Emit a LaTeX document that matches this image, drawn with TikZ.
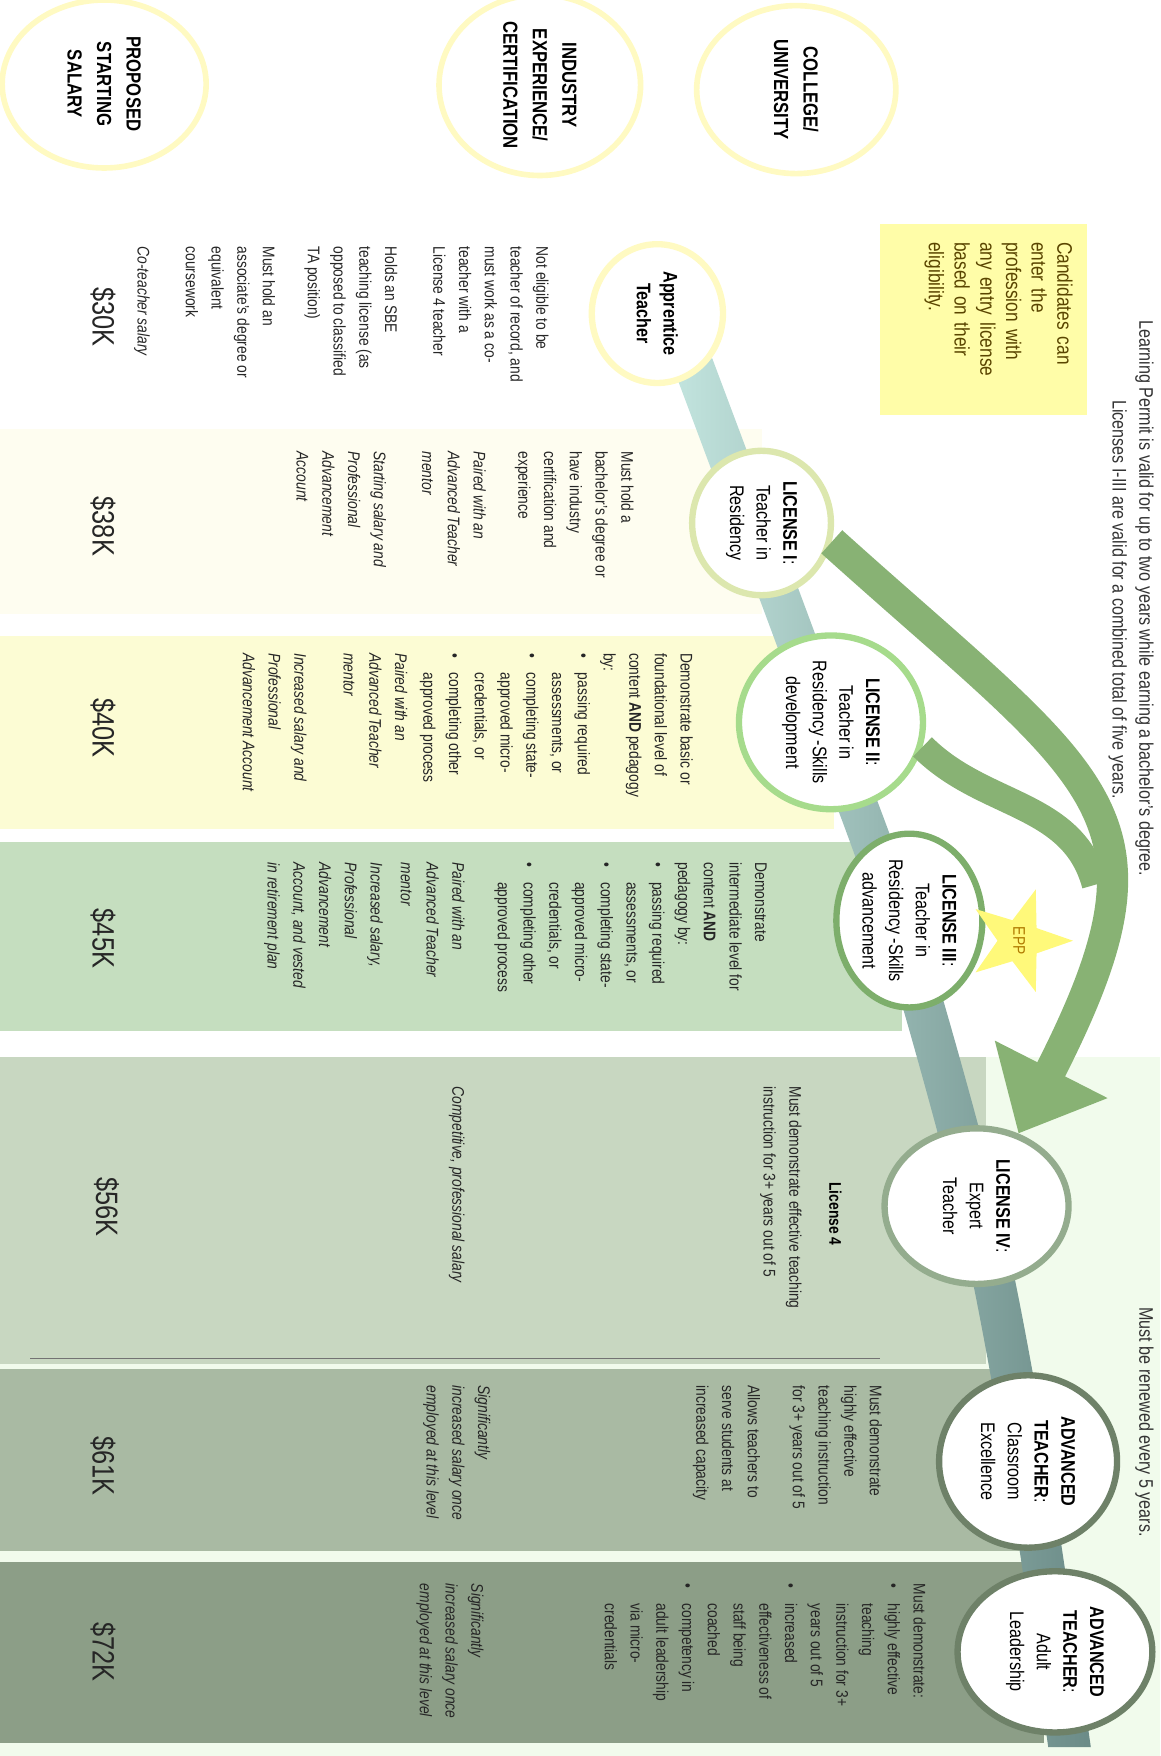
\documentclass[tikz,border=0pt]{standalone}
\usepackage{fontspec}
\setmainfont[FakeStretch=0.82]{Liberation Sans}
\usetikzlibrary{shapes.geometric,arrows.meta}

\definecolor{hdryellow}{HTML}{FFFAC2}
\definecolor{ringI}{HTML}{DCE7AE}
\definecolor{ringII}{HTML}{A6DB8C}
\definecolor{ringIII}{HTML}{7DAE6B}
\definecolor{ringIV}{HTML}{94AC8E}
\definecolor{ringadv}{HTML}{6E8168}
\definecolor{arcgreen}{HTML}{88B274}
\definecolor{notefill}{HTML}{FFFDA8}
\definecolor{notetext}{HTML}{5A4500}
\definecolor{eppstar}{HTML}{FFF97A}
\definecolor{epptext}{HTML}{B07A00}
\definecolor{palebg}{HTML}{F1FBEC}
\definecolor{band38}{HTML}{FEFDF0}
\definecolor{band40}{HTML}{FCFCD4}
\definecolor{band45}{HTML}{C5DEBF}
\definecolor{band56}{HTML}{C8D7C1}
\definecolor{band61}{HTML}{A9BAA3}
\definecolor{band72}{HTML}{8C9E87}
\definecolor{pathtop}{HTML}{C3E5DF}
\definecolor{pathbot}{HTML}{6B8B87}

\newcommand{\bodysize}{\fontsize{12}{18.3}\selectfont}
\newcommand{\stagesize}{\fontsize{14}{19}\selectfont}
\newcommand{\hdrsize}{\fontsize{14.5}{21}\selectfont}
\newcommand{\paysize}{\fontsize{22}{26}\selectfont}
\newcommand{\sidesize}{\fontsize{14}{17}\selectfont}
\newcommand{\boxsize}{\fontsize{15}{18.3}\selectfont}
\newcommand{\itembul}{\makebox[14pt][l]{\textbullet}}
\newcommand{\itemind}{\hspace*{14pt}}

\tikzset{
  hdr/.style={ellipse,draw=hdryellow,line width=4pt,fill=white,inner sep=0pt,align=center,font=\hdrsize\bfseries},
  stage/.style={ellipse,fill=white,line width=4.5pt,inner sep=0pt,align=center,font=\stagesize},
  txt/.style={anchor=north west,inner sep=0pt,align=left,font=\bodysize,text=black!85},
  itxt/.style={txt,font=\bodysize\itshape},
  pay/.style={inner sep=0pt,font=\paysize,text=black!85},
  sidenote/.style={anchor=west,inner sep=0pt,font=\sidesize,text=black!80},
  notebox/.style={anchor=north west,fill=notefill,text=notetext,font=\boxsize,align=left,text width=3.86cm,inner xsep=0.45cm,inner ysep=0.36cm},
  arcband/.style={draw=arcgreen,line width=0.67cm},
  bigarc/.style={arcband,line width=0.78cm,-{Triangle[length=1.8cm,width=3.05cm]}}
}

\begin{document}
\begin{tikzpicture}[x=0.028cm,y=0.028cm,rotate=-90,transform shape]
  \useasboundingbox (0,0) rectangle (1568,1036);
  \fill[palebg] (944,0) rectangle (1568,1036);

  % salary bands
  \fill[band38] (383,0) rectangle (548,680);
  \fill[band40] (568,0) rectangle (740,745);
  \fill[band45] (752,0) rectangle (921,805);
  \fill[band56] (944,0) rectangle (1218,880);
  \fill[band61] (1222,0) rectangle (1385,912);
  \fill[band72] (1395,0) rectangle (1556,932);
  \draw[line width=1.3pt,color=black!55] (1213,27) -- (1213,786);

  % career path
  \shade[left color=pathtop,right color=pathbot]
    plot[smooth] coordinates {(320,636) (467,691) (645,757) (822,821) (1077,892) (1305,936) (1560,974)}
    -- plot[smooth] coordinates {(1560,936) (1305,898) (1077,854) (822,783) (645,719) (467,653) (320,598)}
    -- cycle;

  % column heads
  \node[hdr,minimum width=4.2cm,minimum height=4.98cm] (hdCollege) at (80,711) {COLLEGE/\\UNIVERSITY};
  \node[hdr,minimum width=4.14cm,minimum height=5.04cm] (hdIndustry) at (76,482) {INDUSTRY\\EXPERIENCE/\\CERTIFICATION};
  \node[hdr,minimum width=4.2cm,minimum height=5.1cm] (hdSalary) at (75,93) {PROPOSED\\STARTING\\SALARY};

  \node[notebox] (entrynote) at (200,971) {Candidates can\\enter the\\profession with\\any entry license\\based on their\\eligibility.\par\vspace*{0.74cm}};

  % stages
  \node[stage,draw=hdryellow,minimum width=3.47cm,minimum height=3.28cm] (app) at (280,587) {\textbf{Apprentice}\\\textbf{Teacher}};
  \node[stage,draw=ringI,minimum width=3.61cm,minimum height=3.47cm] (licI) at (467,680) {\textbf{LICENSE I}:\\Teacher in\\Residency};
  \node[stage,draw=ringII,minimum width=3.75cm,minimum height=4.6cm] (licII) at (645,742) {\textbf{LICENSE II}:\\Teacher in\\Residency -Skills\\development};
  \node[stage,draw=ringIII,minimum width=3.95cm,minimum height=3.65cm] (licIII) at (822,812) {\textbf{LICENSE III}:\\Teacher in\\Residency -Skills\\advancement};
  \node[stage,draw=ringIV,minimum width=3.89cm,minimum height=4.6cm] (licIV) at (1077,872) {\textbf{LICENSE IV}:\\Expert\\Teacher};
  \node[stage,draw=ringadv,minimum width=4.31cm,minimum height=4.45cm] (advI) at (1305,918) {\textbf{ADVANCED}\\\textbf{TEACHER}:\\Classroom\\Excellence};
  \node[stage,draw=ringadv,minimum width=4.03cm,minimum height=4.87cm] (advII) at (1475,942) {\textbf{ADVANCED}\\\textbf{TEACHER}:\\Adult\\Leadership};

  % fast track arrows
  \coordinate (merge) at (790,978);
  \draw[arcband] (licII.75) to[out=45,in=195] (merge);
  \draw[bigarc] (licI.75) to[out=48,in=153,looseness=1.5] (licIV.150);

  \node[star,star points=5,star point ratio=2.5,fill=eppstar,minimum size=2.2cm,inner sep=1pt,font=\fontsize{12}{14}\selectfont,text=epptext] (epp) at (840,910) {EPP};

  % notes on the right
  \node[sidenote] (permitnote) at (286,1022) {Learning Permit is valid for up to two years while earning a bachelor's degree.};
  \node[sidenote] (licnote) at (357,998) {Licenses I-III are valid for a combined total of five years.};
  \node[sidenote] (renewnote) at (1167,1022) {Must be renewed every 5 years.};

  % apprentice
  \node[txt] (apA) at (220,490) {Not eligible to be\\teacher of record, and\\must work as a co-\\teacher with a\\License 4 teacher};
  \node[txt] (apB) at (220,355) {Holds an SBE\\teaching license (as\\opposed to classified\\TA position)};
  \node[txt] (apC) at (220,246) {Must hold an\\associate's degree or\\equivalent\\coursework};
  \node[itxt] (apD) at (220,134) {Co-teacher salary};

  % license I
  \node[txt] (lIA) at (403,566) {Must hold a\\bachelor's degree or\\have industry\\certification and\\experience};
  \node[itxt] (lIB) at (403,434) {Paired with an\\Advanced Teacher\\mentor};
  \node[itxt] (lIC) at (403,345) {Starting salary and\\Professional\\Advancement\\Account};

  % license II
  \node[txt] (lIIA) at (583,619) {Demonstrate basic or\\foundational level of\\content \textbf{AND} pedagogy\\by:\\\itembul passing required\\\itemind assessments, or\\\itembul completing state-\\\itemind approved micro-\\\itemind credentials, or\\\itembul completing other\\\itemind approved process};
  \node[itxt] (lIIB) at (583,364) {Paired with an\\Advanced Teacher\\mentor};
  \node[itxt] (lIIC) at (583,274) {Increased salary and\\Professional\\Advancement Account};

  % license III
  \node[txt] (lIIIA) at (770,685) {Demonstrate\\intermediate level for\\content \textbf{AND}\\pedagogy by:\\\itembul passing required\\\itemind assessments, or\\\itembul completing state-\\\itemind approved micro-\\\itemind credentials, or\\\itembul completing other\\\itemind approved process};
  \node[itxt] (lIIIB) at (770,415) {Paired with an\\Advanced Teacher\\mentor};
  \node[itxt] (lIIIC) at (770,342) {Increased salary,\\Professional\\Advancement\\Account, and vested\\in retirement plan};

  % license IV
  \node[inner sep=0pt,font=\fontsize{12}{14}\selectfont\bfseries] (lIVhead) at (1084,746) {License 4};
  \node[txt] (lIVA) at (970,716) {Must demonstrate effective teaching\\instruction for 3+ years out of 5};
  \node[itxt] (lIVB) at (970,415) {Competitive, professional salary};

  % advanced teacher
  \node[txt] (advIA) at (1237,788) {Must demonstrate\\highly effective\\teaching instruction\\for 3+ years out of 5};
  \node[txt] (advIB) at (1237,679) {Allows teachers to\\serve students at\\increased capacity};
  \node[itxt] (advIC) at (1237,438) {Significantly\\increased salary once\\employed at this level};
  \node[txt] (advIIA) at (1414,827) {Must demonstrate:\\\itembul highly effective\\\itemind teaching\\\itemind instruction for 3+\\\itemind years out of 5\\\itembul increased\\\itemind effectiveness of\\\itemind staff being\\\itemind coached\\\itembul competency in\\\itemind adult leadership\\\itemind via micro-\\\itemind credentials};
  \node[itxt] (advIIB) at (1414,432) {Significantly\\increased salary once\\employed at this level};

  % salaries
  \node[pay] (payA) at (283,92) {\$30K};
  \node[pay] (payB) at (470,92) {\$38K};
  \node[pay] (payC) at (650,92) {\$40K};
  \node[pay] (payD) at (838,92) {\$45K};
  \node[pay] (payE) at (1078,95) {\$56K};
  \node[pay] (payF) at (1309,92) {\$61K};
  \node[pay] (payG) at (1475,92) {\$72K};
\end{tikzpicture}
\end{document}
